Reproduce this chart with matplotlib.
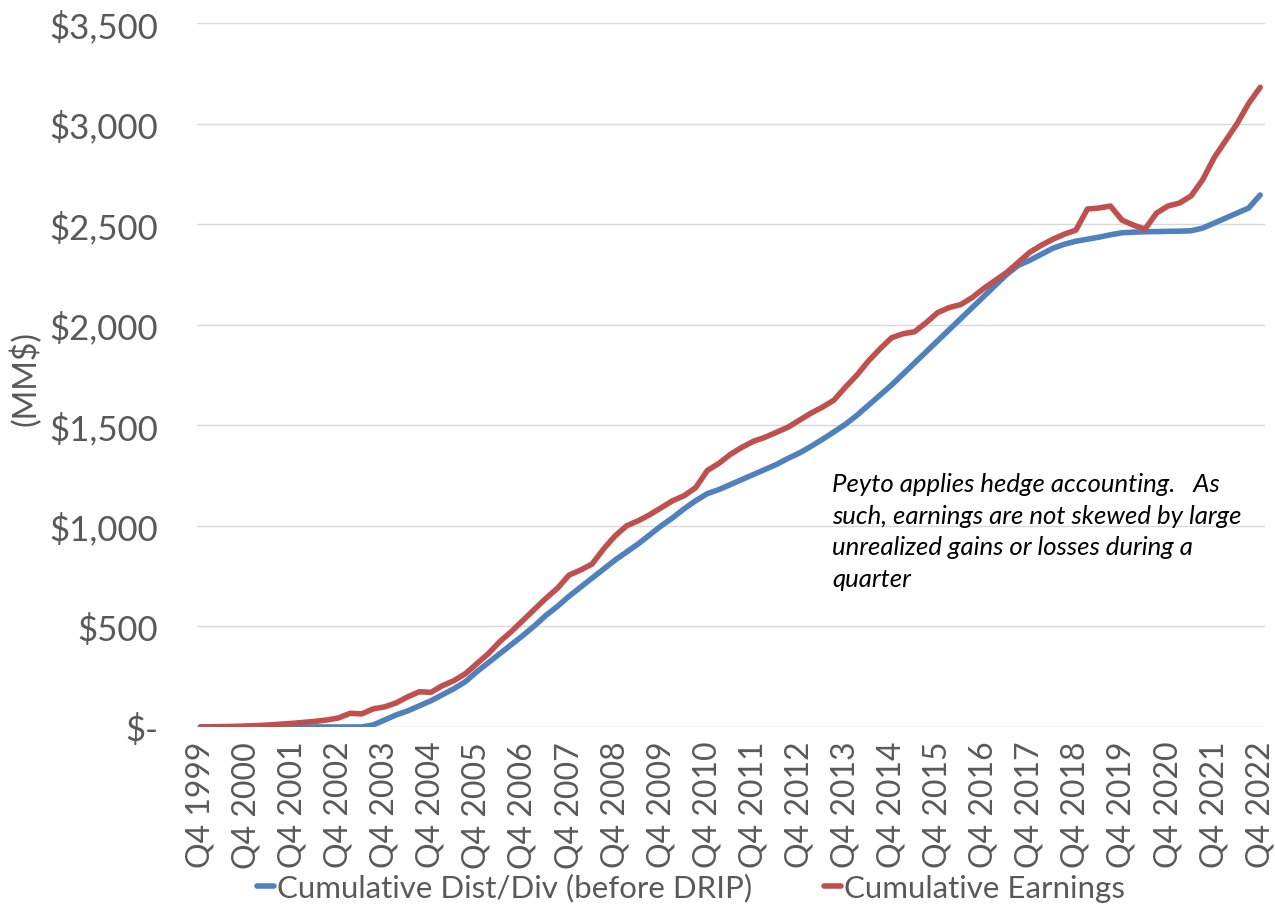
import numpy as np
import matplotlib
matplotlib.use("Agg")
import matplotlib.pyplot as plt
from matplotlib.ticker import FuncFormatter

# quarterly values, Q4 1999 .. Q4 2022 (MM$)
years = list(range(1999, 2023))
tick_labels = ["Q4 %d" % y for y in years]

dist_div = [0, 0, 0, 0, 0, 0, 0, 0, 0, 0, 0, 0, 0, 0, 0, 10,
            35, 60, 80, 105, 130, 160, 190, 225, 275, 320, 365, 410,
            455, 503, 555, 600, 650, 695, 740, 785, 830, 870, 910, 955,
            1000, 1040, 1085, 1125, 1160, 1180, 1205, 1230, 1255, 1280, 1305, 1335,
            1362, 1395, 1430, 1467, 1505, 1550, 1600, 1650, 1700, 1755, 1810, 1865,
            1920, 1975, 2030, 2085, 2140, 2195, 2250, 2295, 2320, 2350, 2380, 2400,
            2415, 2425, 2435, 2447, 2457, 2460, 2462, 2463, 2464, 2465, 2467, 2480,
            2505, 2530, 2555, 2580, 2645]

earnings = [0, 1, 2, 3, 5, 7, 10, 14, 18, 23, 28, 35, 45, 68, 65, 90,
            100, 120, 150, 175, 172, 205, 230, 265, 315, 365, 425, 475,
            530, 585, 640, 690, 755, 780, 810, 885, 950, 1000, 1025, 1055,
            1090, 1125, 1150, 1190, 1275, 1310, 1355, 1390, 1420, 1440, 1465, 1490,
            1525, 1560, 1590, 1625, 1690, 1750, 1820, 1880, 1935, 1955, 1965, 2010,
            2060, 2085, 2100, 2135, 2180, 2220, 2260, 2310, 2360, 2395, 2425, 2450,
            2470, 2575, 2580, 2590, 2520, 2495, 2475, 2555, 2590, 2605, 2640, 2720,
            2830, 2915, 3000, 3100, 3180]

note = ("Peyto applies hedge accounting.   As\n"
        "such, earnings are not skewed by large\n"
        "unrealized gains or losses during a\n"
        "quarter")

plt.rcParams['font.family'] = ['Lato', 'DejaVu Sans']

fig = plt.figure(figsize=(12.75, 9.12), dpi=100)
ax = fig.add_axes([0.1545, 0.2018, 0.8375, 0.7719])

x = np.arange(len(dist_div))
ax.plot(x, dist_div, color='#4F81BD', lw=4, solid_capstyle='round',
        label='Cumulative Dist/Div (before DRIP)')
ax.plot(x, earnings, color='#C0504D', lw=4, solid_capstyle='round',
        label='Cumulative Earnings')

ax.set_xlim(-0.3, 92.4)
ax.set_ylim(0, 3500)
ax.set_yticks(np.arange(0, 3501, 500))
ax.yaxis.set_major_formatter(FuncFormatter(
    lambda v, p: "$-" if v == 0 else "${:,.0f}".format(v)))
ax.set_xticks(np.arange(0, len(dist_div), 4))
ax.set_xticklabels(tick_labels, rotation=90)

ax.grid(axis='y', color='#d9d9d9', lw=1)
ax.set_axisbelow(True)
for s in ax.spines.values():
    s.set_visible(False)
ax.tick_params(axis='both', length=0, colors='#595959')
ax.tick_params(axis='y', pad=28, labelsize=25)
ax.tick_params(axis='x', pad=10, labelsize=23)

ax.set_ylabel("(MM$)", fontsize=23, color='#595959')
ax.yaxis.set_label_coords(-0.145, 0.497)

ax.text(0.595, 0.362, note, transform=ax.transAxes, fontsize=18.5,
        style='italic', color='black', va='top', ha='left', linespacing=1.45)

leg = fig.legend(loc='center', bbox_to_anchor=(0.542, 0.026), ncol=2,
                 frameon=False, handlelength=0.55, handletextpad=0.1,
                 columnspacing=2.3, prop={'size': 22.5})
for t in leg.get_texts():
    t.set_color('#595959')

fig.savefig("out.png", dpi=100)
